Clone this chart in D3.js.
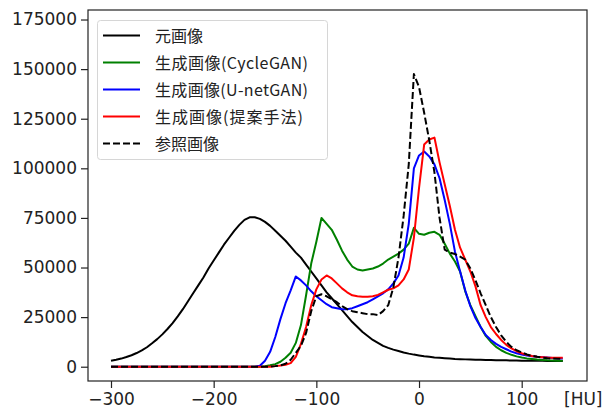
<!DOCTYPE html>
<html>
<head>
  <meta charset="utf-8">
  <script src="https://d3js.org/d3.v7.min.js"></script>
  <style>
    body { margin: 0; background: #fff; }
    text { font-family: "DejaVu Sans", sans-serif; }
  </style>
</head>
<body>
  <div id="chart"></div>
  <script>
    // HU bins, step 5 from -300 to 140
    const hu = d3.range(-300, 141, 5);

    const original = [
      3000, 3500, 4100, 4900, 5800, 6900, 8200, 9800, 11800, 13900,
      16300, 19000, 22000, 25400, 29000, 33000, 37000, 41000, 45000, 49500,
      53500, 57500, 61500, 65000, 68500, 71500, 74000, 75300, 75300, 74500,
      73000, 71000, 68500, 66000, 63500, 60500, 57500, 55000, 51500, 48000,
      44500, 41000, 37500, 34500, 31500, 28500, 25500, 22500, 20000, 17500,
      15500, 13500, 12000, 10500, 9500, 8600, 7900, 7200, 6600, 6100,
      5700, 5300, 5000, 4700, 4500, 4300, 4100, 3900, 3800, 3700,
      3600, 3500, 3450, 3400, 3350, 3300, 3250, 3200, 3150, 3100,
      3050, 3000, 3000, 2950, 2950, 2900, 2900, 2900, 2900
    ];
    const cycleGan = [
      0, 0, 0, 0, 0, 0, 0, 0, 0, 0,
      0, 0, 0, 0, 0, 0, 0, 0, 0, 0,
      0, 0, 0, 0, 0, 0, 0, 0, 0, 0,
      300, 700, 1300, 2500, 4500, 7000, 12000, 21000, 36000, 52000,
      63000, 75000, 72000, 69000, 64000, 58500, 54000, 50500, 49000, 48500,
      49000, 49500, 50500, 52000, 54000, 55500, 57000, 59000, 62000, 70000,
      67000, 66500, 67500, 68000, 66500, 62000, 57000, 53000, 48000, 38000,
      31000, 25500, 20000, 15500, 12500, 10000, 8300, 7000, 6000, 5200,
      4600, 4200, 3900, 3600, 3400, 3200, 3100, 3000, 3000
    ];
    const unetGan = [
      0, 0, 0, 0, 0, 0, 0, 0, 0, 0,
      0, 0, 0, 0, 0, 0, 0, 0, 0, 0,
      0, 0, 0, 0, 0, 0, 0, 0, 0, 500,
      3000, 7500, 15000, 24000, 32000, 38500, 45500, 43500, 41000, 38000,
      35500, 33500, 31500, 30000, 29500, 29000, 29000, 29500, 30500, 31500,
      32500, 34000, 35500, 37000, 39000, 42000, 46000, 55000, 72000, 100000,
      106500, 108500, 106000, 102000, 95000, 84000, 72000, 58000, 48000, 38500,
      30500, 24500, 20000, 16000, 13500, 11500, 10000, 8800, 7600, 6800,
      6200, 5700, 5300, 5000, 4800, 4600, 4400, 4300, 4200
    ];
    const proposed = [
      0, 0, 0, 0, 0, 0, 0, 0, 0, 0,
      0, 0, 0, 0, 0, 0, 0, 0, 0, 0,
      0, 0, 0, 0, 0, 0, 0, 0, 0, 0,
      0, 0, 300, 600, 1000, 1800, 5000, 11500, 20000, 31000,
      39000, 44000, 46000, 44500, 42000, 39500, 37500, 36000, 35500, 35300,
      35300, 35500, 36200, 37500, 38800, 39500, 41000, 44000, 49000, 65000,
      90000, 112000, 114500, 115500, 103000, 92000, 81000, 69000, 60000, 54000,
      48000, 40500, 31000, 25000, 20000, 16500, 13500, 11000, 9200, 7800,
      6800, 6000, 5400, 5000, 4800, 4600, 4500, 4500, 4500
    ];
    const reference = [
      0, 0, 0, 0, 0, 0, 0, 0, 0, 0,
      0, 0, 0, 0, 0, 0, 0, 0, 0, 0,
      0, 0, 0, 0, 0, 0, 0, 0, 0, 0,
      0, 0, 300, 700, 1500, 3500, 7000, 10500, 17000, 28000,
      35500, 36500, 35500, 34000, 32500, 30500, 29000, 28000, 27500, 27000,
      26500, 26500, 26000, 28000, 31000, 40000, 55000, 76000, 102000, 147500,
      141000, 128000, 114000, 98000, 75000, 59000, 57500, 56800, 55500, 54000,
      49500, 43500, 37000, 31000, 25000, 20000, 15800, 12500, 10000, 8300,
      7200, 6200, 5500, 5000, 4600, 4300, 4100, 4000, 4000
    ];

    const seriesNames = ["元画像", "生成画像(CycleGAN)", "生成画像(U-netGAN)", "生成画像(提案手法)", "参照画像"];
    const seriesColors = ["#000000", "#008000", "#0000ff", "#ff0000", "#000000"];
    const seriesValues = [original, cycleGan, unetGan, proposed, reference];
    // rendered width of each legend label in the reference (null = natural)
    const labelWidths = [null, 153, 153, 148, null];

    const xTicks = [-300, -200, -100, 0, 100];
    const yTicks = [0, 25000, 50000, 75000, 100000, 125000, 150000, 175000];

    const width = 603, height = 410;
    const svg = d3.select("#chart").append("svg")
      .attr("width", width)
      .attr("height", height);

    const plotLeft = 88, plotRight = 587, plotTop = 10, plotBottom = 381;

    const x = d3.scaleLinear().domain([-322.4, 163.6]).range([plotLeft, plotRight]);
    const y = d3.scaleLinear().domain([-7200, 179800]).range([plotBottom, plotTop]);

    const minus = s => String(s).replace("-", "\u2212");

    // axes
    const xAxis = svg.append("g")
      .attr("transform", `translate(0,${plotBottom})`)
      .call(d3.axisBottom(x).tickValues(xTicks).tickSize(7).tickPadding(5).tickFormat(minus));
    const yAxis = svg.append("g")
      .attr("transform", `translate(${plotLeft},0)`)
      .call(d3.axisLeft(y).tickValues(yTicks).tickSize(7).tickPadding(4).tickFormat(d3.format("d")));

    [xAxis, yAxis].forEach(g => {
      g.select(".domain").remove();
      g.selectAll(".tick line").attr("stroke", "#222").attr("stroke-width", 1.2);
      g.selectAll(".tick text")
        .attr("fill", "#222")
        .style("font-family", "'DejaVu Sans', sans-serif")
        .style("font-size", "17px");
    });

    svg.append("text")
      .attr("x", 564)
      .attr("y", 405)
      .attr("fill", "#222")
      .style("font-size", "17px")
      .text("[HU]");

    // lines
    const line = d3.line()
      .x((d, i) => x(hu[i]))
      .y(d => y(d));

    seriesValues.forEach((vals, k) => {
      svg.append("path")
        .datum(vals)
        .attr("fill", "none")
        .attr("stroke", seriesColors[k])
        .attr("stroke-width", 2)
        .attr("stroke-linejoin", "round")
        .attr("stroke-dasharray", k === 4 ? "7,3" : null)
        .attr("d", line);
    });

    // frame
    svg.append("rect")
      .attr("x", plotLeft)
      .attr("y", plotTop)
      .attr("width", plotRight - plotLeft)
      .attr("height", plotBottom - plotTop)
      .attr("fill", "none")
      .attr("stroke", "#222")
      .attr("stroke-width", 1.2);

    // legend
    const legend = svg.append("g");
    legend.append("rect")
      .attr("x", 97.5)
      .attr("y", 20.5)
      .attr("width", 230)
      .attr("height", 139)
      .attr("rx", 3)
      .attr("fill", "#fff")
      .attr("fill-opacity", 0.8)
      .attr("stroke", "#d6d6d6");

    seriesNames.forEach((name, k) => {
      const cy = 35.5 + k * 27;
      legend.append("line")
        .attr("x1", 103)
        .attr("x2", 140)
        .attr("y1", cy)
        .attr("y2", cy)
        .attr("stroke", seriesColors[k])
        .attr("stroke-width", 2)
        .attr("stroke-dasharray", k === 4 ? "7,3" : null);
      const t = legend.append("text")
        .attr("x", 155)
        .attr("y", cy + 6.5)
        .attr("fill", "#222")
        .style("font-family", "'Noto Sans CJK JP', sans-serif")
        .style("font-size", "16px")
        .text(name);
      if (labelWidths[k]) {
        t.attr("textLength", labelWidths[k]).attr("lengthAdjust", "spacing");
      }
    });
  </script>
</body>
</html>
